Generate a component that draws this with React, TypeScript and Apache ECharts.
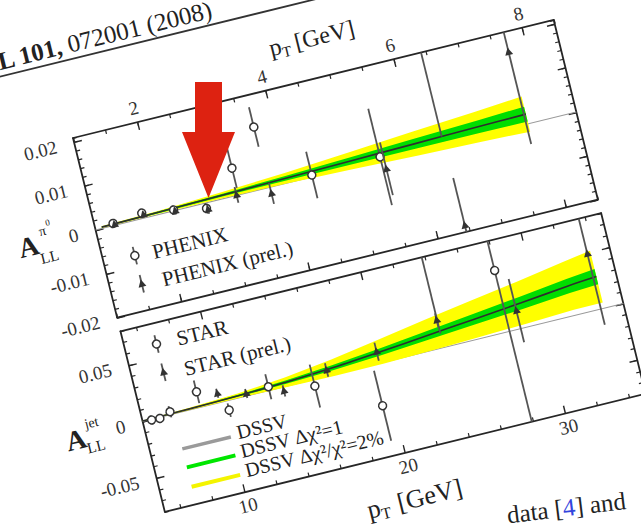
import React, { useEffect, useRef } from "react";
import * as echarts from "echarts";

// ---------- π0 panel (PHENIX) ----------
const piPtMajor = [2, 4, 6, 8];
const piAllMajor = [-0.02, -0.01, 0, 0.01, 0.02];

const phenixPt = [1.28, 1.74, 2.22, 2.71, 3.23, 3.7, 4.38, 5.45, 6.43];
const phenixAll = [0.0005, 0.0012, 0.0002, -0.0012, 0.0061, 0.0138, 0.0004, 0.0007, 0.026];
const phenixErr = [0.0008, 0.0008, 0.001, 0.0012, 0.0045, 0.0045, 0.0053, 0.011, 0.0242];

const phenixPrelPt = [1.3, 1.76, 2.24, 2.73, 3.2, 3.72, 5.5, 6.45, 7.72];
const phenixPrelAll = [0.0002, 0.0008, -0.0001, -0.0015, 0.0001, -0.0014, -0.0022, -0.0185, 0.0165];
const phenixPrelErr = [0.0006, 0.0007, 0.0008, 0.001, 0.0018, 0.0024, 0.006, 0.0108, 0.021];

const piCurvePt = [1.1, 2, 3, 4, 5, 6, 7, 7.75];
const piCurve = [0.0003, 0.0005, 0.0008, 0.0011, 0.0014, 0.0017, 0.002, 0.0022];
const piGreenLo = [0.0002, 0.0003, 0.0005, 0.0006, 0.0006, 0.0006, 0.0006, 0.0005];
const piGreenHi = [0.0004, 0.0007, 0.0011, 0.0016, 0.0022, 0.0028, 0.0034, 0.0039];
const piYellowLo = [0.0001, 0.0002, 0.0001, -0.0001, -0.0005, -0.001, -0.0014, -0.0018];
const piYellowHi = [0.0005, 0.0008, 0.0015, 0.0023, 0.0033, 0.0044, 0.0054, 0.0062];

// ---------- jet panel (STAR) ----------
const jetPtMajor = [10, 20, 30];
const jetPtMinor = [6, 8, 12, 14, 16, 18, 22, 24, 26, 28, 32, 34];
const jetAllMajor = [-0.05, 0, 0.05];

const starPt = [5.55, 6.06, 6.75, 8.6, 10.26, 12.9, 15.65, 19.35, 23.8, 27.9];
const starAll = [-0.0005, -0.0009, 0.0026, 0.0138, -0.0082, 0.0033, -0.0057, -0.036, 0.09, 0.054];
const starErr = [0.004, 0.004, 0.005, 0.01, 0.006, 0.011, 0.019, 0.031, 0.0775, 0.14];

const starPrelPt = [9.8, 11.5, 13.76, 16.57, 19.78, 23.77, 28.6, 33.6];
const starPrelAll = [0.0083, 0.0022, -0.0033, 0.0053, 0.0104, 0.0244, 0.016, 0.049];
const starPrelErr = [0.004, 0.004, 0.005, 0.006, 0.008, 0.006, 0.028, 0.063];

const jetCurvePt = [5, 8, 11, 14, 17, 20, 23, 26, 29, 32, 33.8];
const jetCurve = [0.0005, 0.001, 0.002, 0.0035, 0.006, 0.0095, 0.0135, 0.0175, 0.0215, 0.026, 0.028];
const jetGreenLo = [0.0003, 0.0006, 0.0012, 0.0021, 0.0038, 0.0065, 0.0097, 0.0129, 0.0161, 0.0198, 0.0213];
const jetGreenHi = [0.0007, 0.0014, 0.0028, 0.0049, 0.0082, 0.0125, 0.0173, 0.0221, 0.0269, 0.0322, 0.0347];
const jetYellowLo = [0.0002, 0.0, 0.0, -0.0007, -0.0012, -0.001, 0.0, 0.0015, 0.003, 0.005, 0.005];
const jetYellowHi = [0.0008, 0.002, 0.004, 0.0077, 0.0132, 0.02, 0.027, 0.0335, 0.04, 0.047, 0.051];

// axis ranges
const PI_X = [1, 8.5];
const PI_Y = [-0.02, 0.021];
const JET_X = [5, 35];
const JET_Y = [-0.08, 0.08];

// ---------- layout of the figure sheet ----------
const W = 770;
const H = 690;
const L = 170; // left of both panels inside the sheet
const T = 160; // top of the upper panel
const PW = 495;
const PH1 = 185;
const GAP_TOP = 199;
const PH2 = 186;
const TILT = -13.8;

const FONT = '"Liberation Serif", "DejaVu Serif", "Times New Roman", serif';
const INK = "#262626";
const BAR = "#555555";
const GREEN = "#00dd00";
const YELLOW = "#ffff00";

const at = (u: number, v: number) => [L + u, T + v];

function majorAxis(
  gridIndex: number,
  position: string,
  range: number[],
  major: number[],
  showLabels: boolean,
  margin: number
) {
  return {
    type: "value",
    gridIndex,
    position,
    min: range[0],
    max: range[1],
    axisLine: { show: true, onZero: false, lineStyle: { color: INK, width: 1.8 } },
    axisTick: {
      show: true,
      inside: true,
      length: 8,
      customValues: major,
      lineStyle: { color: INK, width: 1.4 },
    },
    axisLabel: {
      show: showLabels,
      customValues: major,
      margin,
      fontSize: 19,
      fontFamily: FONT,
      color: "#333",
    },
    splitLine: { show: false },
  };
}

function minorAxis(
  gridIndex: number,
  position: string,
  range: number[],
  interval?: number,
  values?: number[]
) {
  const tick: any = {
    show: true,
    inside: true,
    length: 4,
    lineStyle: { color: INK, width: 1.2 },
  };
  if (values) tick.customValues = values;
  const ax: any = {
    type: "value",
    gridIndex,
    position,
    min: range[0],
    max: range[1],
    axisLine: { show: false, onZero: false },
    axisTick: tick,
    axisLabel: { show: false },
    splitLine: { show: false },
  };
  if (interval) ax.interval = interval;
  return ax;
}

function bandSeries(xi: number, yi: number, pts: number[], lo: number[], hi: number[], color: string, z: number) {
  return {
    type: "custom",
    xAxisIndex: xi,
    yAxisIndex: yi,
    clip: true,
    silent: true,
    z,
    data: pts.map((p, i) => [p, lo[i], hi[i]]),
    renderItem: (params: any, api: any) => {
      if (params.dataIndex !== 0) return null;
      const upper = pts.map((p, i) => api.coord([p, hi[i]]));
      const lower = pts.map((p, i) => api.coord([p, lo[i]])).reverse();
      return {
        type: "polygon",
        shape: { points: upper.concat(lower) },
        style: { fill: color },
      };
    },
  };
}

function curveSeries(name: string, xi: number, yi: number, pts: number[], vals: number[]) {
  return {
    type: "line",
    name,
    xAxisIndex: xi,
    yAxisIndex: yi,
    showSymbol: false,
    smooth: 0.3,
    silent: true,
    z: 4,
    lineStyle: { color: "#2e2e2e", width: 1.6 },
    data: pts.map((p, i) => [p, vals[i]]),
  };
}

function zeroSeries(xi: number, yi: number, range: number[]) {
  return {
    type: "line",
    xAxisIndex: xi,
    yAxisIndex: yi,
    showSymbol: false,
    silent: true,
    z: 1,
    lineStyle: { color: "#9a9a9a", width: 1 },
    data: [
      [range[0], 0],
      [range[1], 0],
    ],
  };
}

function pointSeries(
  name: string,
  xi: number,
  yi: number,
  pts: number[],
  vals: number[],
  errs: number[],
  marker: "circle" | "triangle"
) {
  return {
    type: "custom",
    name,
    xAxisIndex: xi,
    yAxisIndex: yi,
    clip: true,
    silent: true,
    z: marker === "circle" ? 5 : 6,
    data: pts.map((p, i) => [p, vals[i], errs[i]]),
    renderItem: (_params: any, api: any) => {
      const x = api.value(0);
      const y = api.value(1);
      const e = api.value(2);
      const c = api.coord([x, y]);
      const hi = api.coord([x, y + e]);
      const lo = api.coord([x, y - e]);
      const children: any[] = [
        {
          type: "line",
          shape: { x1: hi[0], y1: hi[1], x2: lo[0], y2: lo[1] },
          style: { stroke: BAR, lineWidth: 1.8 },
        },
      ];
      if (marker === "circle") {
        children.push({
          type: "circle",
          shape: { cx: c[0], cy: c[1], r: 4 },
          style: { fill: "#fff", stroke: "#333", lineWidth: 1.5 },
        });
      } else {
        children.push({
          type: "polygon",
          shape: {
            points: [
              [c[0], c[1] - 4.5],
              [c[0] + 4, c[1] + 3],
              [c[0] - 4, c[1] + 3],
            ],
          },
          style: { fill: "#333" },
        });
      }
      return { type: "group", children };
    },
  };
}

function text(u: number, v: number, s: string, size: number, align = "left", bold = false, extra: any = {}) {
  const [x, y] = at(u, v);
  return {
    type: "text",
    x,
    y,
    z: 100,
    style: {
      text: s,
      fontSize: size,
      fontFamily: FONT,
      fontWeight: bold ? "bold" : "normal",
      fill: "#222",
      align,
      textAlign: align,
      verticalAlign: "middle",
      textVerticalAlign: "middle",
      ...extra,
    },
  };
}

function legendMarker(u: number, v: number, kind: "circle" | "triangle") {
  const [x, y] = at(u, v);
  const kids: any[] = [
    { type: "line", shape: { x1: 0, y1: -9, x2: 0, y2: 9 }, style: { stroke: BAR, lineWidth: 1.8 } },
  ];
  if (kind === "circle") {
    kids.push({ type: "circle", shape: { cx: 0, cy: 0, r: 4 }, style: { fill: "#fff", stroke: "#333", lineWidth: 1.5 } });
  } else {
    kids.push({ type: "polygon", shape: { points: [[0, -4.5], [4, 3], [-4, 3]] }, style: { fill: "#333" } });
  }
  return { type: "group", x, y, z: 100, children: kids };
}

function legendLine(u: number, v: number, color: string, width: number) {
  const [x, y] = at(u, v);
  return {
    type: "line",
    z: 100,
    shape: { x1: x, y1: y, x2: x + 50, y2: y },
    style: { stroke: color, lineWidth: width },
  };
}

function figureOption() {
  const b = GAP_TOP;
  return {
    animation: false,
    backgroundColor: "transparent",
    grid: [
      { left: L, top: T, width: PW, height: PH1 },
      { left: L, top: T + GAP_TOP, width: PW, height: PH2 },
    ],
    xAxis: [
      majorAxis(0, "top", PI_X, piPtMajor, true, 5),
      minorAxis(0, "top", PI_X, 0.5),
      majorAxis(0, "bottom", PI_X, piPtMajor, false, 5),
      minorAxis(0, "bottom", PI_X, 0.5),
      majorAxis(1, "top", JET_X, jetPtMajor, false, 5),
      minorAxis(1, "top", JET_X, undefined, jetPtMinor),
      majorAxis(1, "bottom", JET_X, jetPtMajor, true, 4),
      minorAxis(1, "bottom", JET_X, undefined, jetPtMinor),
    ],
    yAxis: [
      majorAxis(0, "left", PI_Y, piAllMajor, true, 18),
      minorAxis(0, "left", PI_Y, 0.002),
      majorAxis(0, "right", PI_Y, piAllMajor, false, 8),
      minorAxis(0, "right", PI_Y, 0.002),
      majorAxis(1, "left", JET_Y, jetAllMajor, true, 18),
      minorAxis(1, "left", JET_Y, 0.01),
      majorAxis(1, "right", JET_Y, jetAllMajor, false, 8),
      minorAxis(1, "right", JET_Y, 0.01),
    ],
    series: [
      zeroSeries(0, 0, PI_X),
      bandSeries(0, 0, piCurvePt, piYellowLo, piYellowHi, YELLOW, 2),
      bandSeries(0, 0, piCurvePt, piGreenLo, piGreenHi, GREEN, 3),
      curveSeries("DSSV", 0, 0, piCurvePt, piCurve),
      pointSeries("PHENIX", 0, 0, phenixPt, phenixAll, phenixErr, "circle"),
      pointSeries("PHENIX (prel.)", 0, 0, phenixPrelPt, phenixPrelAll, phenixPrelErr, "triangle"),

      zeroSeries(6, 4, JET_X),
      bandSeries(6, 4, jetCurvePt, jetYellowLo, jetYellowHi, YELLOW, 2),
      bandSeries(6, 4, jetCurvePt, jetGreenLo, jetGreenHi, GREEN, 3),
      curveSeries("DSSV", 6, 4, jetCurvePt, jetCurve),
      pointSeries("STAR", 6, 4, starPt, starAll, starErr, "circle"),
      pointSeries("STAR (prel.)", 6, 4, starPrelPt, starPrelAll, starPrelErr, "triangle"),
    ],
    graphic: [
      // journal running head
      {
        type: "line",
        z: 100,
        shape: { x1: 0, y1: T - 77, x2: W, y2: T - 77 },
        style: { stroke: "#333", lineWidth: 1.8 },
      },
      text(165, -92, "{b|PRL 101,} 072001 (2008)", 25, "right", false, {
        rich: { b: { fontWeight: "bold", fontSize: 25, fontFamily: FONT, fill: "#222" } },
      }),

      // axis titles
      text(212, -40, "p", 24),
      text(224, -33, "T", 15),
      text(238, -40, "[GeV]", 24),
      text(197, 432, "p", 26),
      text(210, 439, "T", 16),
      text(228, 432, "[GeV]", 26),

      text(-69, 95, "A", 28, "center", true),
      text(-51, 110, "LL", 15, "center"),
      text(-52, 83, "π", 14, "center"),
      text(-45, 76, "0", 9, "center"),
      text(-69, 294, "A", 28, "center", true),
      text(-51, 305, "LL", 15, "center"),
      text(-50, 281, "jet", 14, "center"),

      // π0 legend
      legendMarker(32, 129, "circle"),
      text(50, 130, "PHENIX", 21),
      legendMarker(32, 158, "triangle"),
      text(53, 159, "PHENIX (prel.)", 21),

      // jet legend
      legendMarker(32, b + 21, "circle"),
      text(53, b + 21, "STAR", 21),
      legendMarker(32, b + 50, "triangle"),
      text(53, b + 52, "STAR (prel.)", 21),

      legendLine(32, b + 129, "#9a9a9a", 3.5),
      text(89, b + 126, "DSSV", 20),
      legendLine(32, b + 148, "#00e600", 4),
      text(88, b + 145, "DSSV Δχ²=1", 20),
      legendLine(32, b + 168, "#f4f400", 4),
      text(88, b + 165, "DSSV Δχ²/χ²=2%", 20),
    ],
  };
}

function pageOption() {
  return {
    animation: false,
    backgroundColor: "transparent",
    graphic: [
      {
        type: "polygon",
        z: 100,
        shape: {
          points: [
            [195, 82],
            [222, 82],
            [222, 132],
            [235, 132],
            [208.5, 198],
            [182, 132],
            [195, 132],
          ],
        },
        style: { fill: "#dd2211" },
      },
      {
        type: "text",
        x: 507,
        y: 515,
        rotation: (7 * Math.PI) / 180,
        z: 100,
        style: {
          text: "data [{k|4}] and",
          fontSize: 25,
          fontFamily: FONT,
          fill: "#222",
          align: "left",
          textAlign: "left",
          verticalAlign: "middle",
          textVerticalAlign: "middle",
          rich: { k: { fill: "#3344dd", fontSize: 25, fontFamily: FONT } },
        },
      },
    ],
  };
}

export default function App() {
  const figRef = useRef<HTMLDivElement>(null);
  const pageRef = useRef<HTMLDivElement>(null);

  useEffect(() => {
    const fig = echarts.init(figRef.current!, null, { renderer: "svg" });
    fig.setOption(figureOption() as any);
    const page = echarts.init(pageRef.current!, null, { renderer: "svg" });
    page.setOption(pageOption() as any);
    return () => {
      fig.dispose();
      page.dispose();
    };
  }, []);

  return (
    <div
      style={{
        position: "fixed",
        left: 0,
        top: 0,
        width: 641,
        height: 525,
        overflow: "hidden",
        background: "#fff",
      }}
    >
      <div
        ref={figRef}
        style={{
          position: "absolute",
          left: 73 - L,
          top: 138 - T,
          width: W,
          height: H,
          transform: `rotate(${TILT}deg)`,
          transformOrigin: `${L}px ${T}px`,
        }}
      />
      <div ref={pageRef} style={{ position: "absolute", left: 0, top: 0, width: 641, height: 525 }} />
    </div>
  );
}
